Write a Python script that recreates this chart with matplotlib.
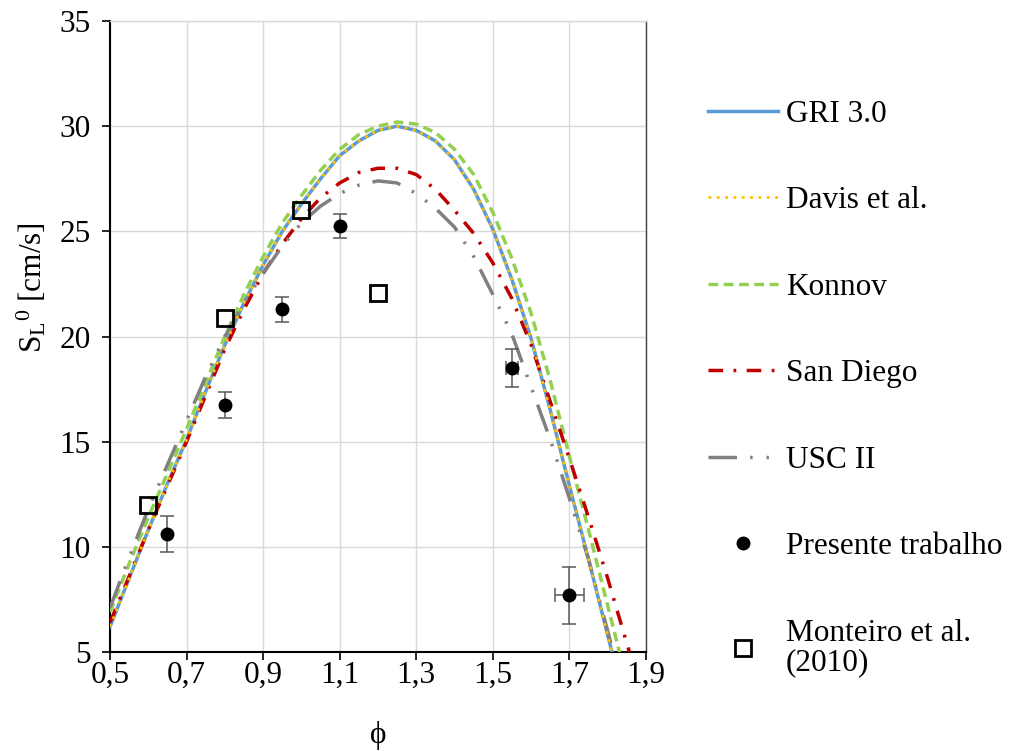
import matplotlib
matplotlib.use("Agg")
import matplotlib.pyplot as plt

plt.rcParams['font.family'] = ['Liberation Serif', 'DejaVu Serif']
plt.rcParams['mathtext.fontset'] = 'custom'
plt.rcParams['mathtext.rm'] = 'Liberation Serif'
plt.rcParams['mathtext.it'] = 'Liberation Serif:italic'

# equivalence ratio grid of the kinetic models
phi_model = [0.50, 0.55, 0.60, 0.65, 0.70, 0.75, 0.80, 0.85, 0.90, 0.95,
             1.00, 1.05, 1.10, 1.15, 1.20, 1.25, 1.30, 1.35, 1.40, 1.45,
             1.50, 1.55, 1.60, 1.65, 1.70, 1.75, 1.80, 1.85, 1.90]

gri30 = [6.2, 8.5, 10.8, 13.0, 15.1, 17.4, 19.6, 21.6, 23.4, 25.0,
         26.3, 27.5, 28.6, 29.3, 29.8, 30.0, 29.8, 29.3, 28.4, 27.0,
         25.1, 22.7, 19.9, 16.5, 12.9, 9.4, 5.8, 2.2, -1.4]
davis = [6.2, 8.5, 10.8, 13.0, 15.1, 17.4, 19.6, 21.6, 23.4, 25.0,
         26.3, 27.5, 28.6, 29.3, 29.8, 30.0, 29.8, 29.3, 28.4, 27.0,
         25.1, 22.7, 19.9, 16.5, 12.9, 9.4, 5.8, 2.2, -1.4]
konnov = [6.9, 9.2, 11.4, 13.5, 15.6, 17.8, 20.0, 22.0, 23.8, 25.4,
          26.7, 27.9, 28.9, 29.6, 30.0, 30.2, 30.1, 29.7, 28.9, 27.7,
          25.9, 23.7, 21.1, 17.9, 14.3, 10.8, 7.2, 3.6, 0.0]
san_diego = [6.4, 8.6, 10.8, 12.9, 15.0, 17.2, 19.4, 21.3, 23.0, 24.4,
             25.6, 26.6, 27.3, 27.8, 28.0, 28.0, 27.7, 27.0, 26.0, 24.9,
             23.5, 21.8, 19.6, 16.9, 14.2, 11.4, 8.5, 5.4, 2.4]
usc2 = [7.1, 9.5, 11.8, 13.9, 16.0, 18.1, 20.0, 21.6, 23.0, 24.3,
        25.4, 26.2, 26.8, 27.2, 27.4, 27.3, 26.8, 26.1, 25.2, 23.8,
        22.0, 20.1, 17.6, 15.1, 12.3, 9.4, 6.0, 2.5, -1.0]

# measurements (this work) with uncertainties
phi_exp = [0.65, 0.80, 0.95, 1.10, 1.55, 1.70]
sl_exp = [10.6, 16.75, 21.3, 25.25, 18.5, 7.7]
sl_err = [0.85, 0.6, 0.6, 0.58, 0.9, 1.35]
phi_err = [0.0, 0.0, 0.0, 0.0, 0.015, 0.037]

# Monteiro et al. (2010)
phi_mont = [0.6, 0.8, 1.0, 1.2]
sl_mont = [12.0, 20.9, 26.0, 22.05]

x_ticks = [0.5, 0.7, 0.9, 1.1, 1.3, 1.5, 1.7, 1.9]
y_ticks = [5, 10, 15, 20, 25, 30, 35]

fs = 22.5
fig = plt.figure(figsize=(10.1, 7.51), dpi=100)
fig.subplots_adjust(left=0.1089, right=0.6396, top=0.972, bottom=0.1318)
ax = fig.add_subplot(111)

lw = 2.5
ax.plot(phi_model, gri30, color='#5B9BD5', lw=lw, label='GRI 3.0', zorder=3)
ax.plot(phi_model, davis, color='#FFC000', lw=2.0, ls=(0, (1, 2.0)),
        label='Davis et al.', zorder=4)
ax.plot(phi_model, konnov, color='#92D050', lw=lw, ls=(0, (2.8, 1.6)),
        label='Konnov', zorder=3)
ax.plot(phi_model, san_diego, color='#C00000', lw=lw, ls=(0, (4.2, 3.0, 0.8, 3.0)),
        label='San Diego', zorder=3)
ax.plot(phi_model, usc2, color='#808080', lw=lw,
        ls=(0, (8.2, 3.8, 0.7, 4.0, 0.7, 3.8)), label='USC II', zorder=3)

ax.errorbar(phi_exp, sl_exp, yerr=sl_err, xerr=phi_err, fmt='none',
            ecolor='#595959', elinewidth=1.1, capsize=5, capthick=1.1, zorder=5)
ax.plot(phi_exp, sl_exp, 'o', color='black', ms=9, ls='none',
        label='Presente trabalho', zorder=6)
ax.plot(phi_mont, sl_mont, 's', mfc='none', mec='black', mew=2.0, ms=12,
        ls='none', label='Monteiro et al.\n(2010)', zorder=6)

ax.set_xlim(0.5, 1.9)
ax.set_ylim(5, 35)
ax.set_xticks(x_ticks)
ax.set_xticklabels([f'{v:.1f}'.replace('.', ',') for v in x_ticks])
ax.set_yticks(y_ticks)
ax.grid(True, color='#D9D9D9', lw=1.0)
ax.set_axisbelow(True)

for side in ['left', 'bottom']:
    ax.spines[side].set_color('black')
    ax.spines[side].set_linewidth(1.5)
ax.spines['right'].set_color('#404040')
ax.spines['right'].set_linewidth(1.0)
ax.spines['top'].set_color('#D9D9D9')
ax.spines['top'].set_linewidth(1.0)
ax.tick_params(direction='out', length=6, width=1.2, labelsize=fs)
ax.tick_params(axis='x', pad=0)
ax.tick_params(axis='y', pad=8)

ax.set_ylabel(r'$\mathregular{S_{L}{}^{0}}$ [cm/s]', fontsize=fs)
ax.yaxis.set_label_coords(-0.115, 0.578)
ax.set_xlabel('ϕ', fontsize=fs)
ax.xaxis.set_label_coords(0.5, -0.11)

leg = ax.legend(loc='upper left', bbox_to_anchor=(0.701, 0.867),
                bbox_transform=fig.transFigure, frameon=False, fontsize=fs,
                handlelength=2.24, handletextpad=0.25, labelspacing=1.84,
                borderpad=0, borderaxespad=0, numpoints=1)
for t in leg.get_texts():
    t.set_linespacing(1.0)

fig.savefig('out.png', dpi=100)
